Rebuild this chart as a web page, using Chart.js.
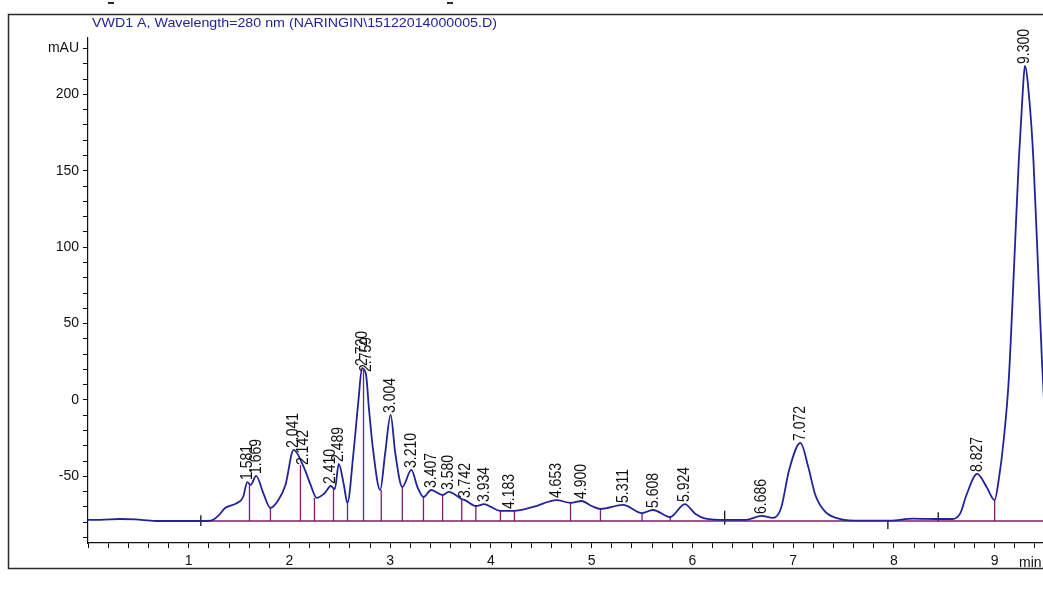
<!DOCTYPE html>
<html>
<head>
<meta charset="utf-8">
<script src="https://cdn.jsdelivr.net/npm/chart.js@4/dist/chart.umd.min.js"></script>
<style>
  html, body { margin: 0; padding: 0; background: #fff; overflow: hidden; }
  canvas { display: block; }
</style>
</head>
<body>
<canvas id="chromato" width="1043" height="590"></canvas>
<script>
//! Les données du chromatogramme.

const titleText = 'VWD1 A, Wavelength=280 nm (NARINGIN\\15122014000005.D)';

// signal (min / mAU)
const traceTime = [
  0.00, 0.12, 0.32, 0.47, 0.67, 0.92, 1.12, 1.22, 1.30, 1.36, 1.48, 1.54,
  1.581, 1.615, 1.669, 1.74, 1.81, 1.89, 1.96, 2.041, 2.142, 2.21, 2.27,
  2.35, 2.41, 2.45, 2.489, 2.54, 2.575, 2.635, 2.685, 2.72, 2.759, 2.79,
  2.83, 2.90, 2.95, 3.004, 3.05, 3.12, 3.21, 3.27, 3.33, 3.407, 3.52, 3.58,
  3.71, 3.742, 3.85, 3.934, 4.00, 4.09, 4.23, 4.42, 4.653, 4.79, 4.90, 5.00,
  5.09, 5.311, 5.50, 5.608, 5.78, 5.924, 6.03, 6.13, 6.33, 6.53, 6.686, 6.80,
  6.88, 6.96, 7.072, 7.15, 7.22, 7.32, 7.47, 7.67, 7.96, 8.19, 8.46, 8.58,
  8.66, 8.72, 8.827, 8.92, 9.00, 9.04, 9.09, 9.14, 9.19, 9.24, 9.28, 9.30,
  9.345, 9.385, 9.43, 9.47, 9.49
];
const traceSignal = [
  -78.5, -78.5, -77.9, -78.2, -79.2, -79.2, -79.2, -78.9, -75.3, -70.7, -67.4, -63.5,
  -53.7, -55.6, -49.7, -60.9, -70.7, -65.5, -55.6, -32.7, -43.9, -55.6, -64.1,
  -60.9, -56.3, -58.3, -41.9, -55.6, -67.4, -34.7, 0, 20.9, 17.0, -6.5,
  -32.7, -58.9, -34.7, -9.8, -34.7, -56.9, -45.8, -56.9, -63.5, -58.9, -62.2, -60.2,
  -64.8, -65.5, -69.4, -68.1, -70.0, -72.6, -72.6, -70.0, -65.5, -67.4, -66.1, -69.4,
  -71.3, -68.7, -74.0, -72.0, -76.6, -68.1, -74.6, -77.6, -78.5, -78.5, -75.9, -77.2,
  -70.7, -45.8, -28.1, -43.9, -62.2, -73.3, -77.9, -78.9, -78.9, -77.6, -77.9, -77.9,
  -74.0, -62.2, -48.4, -56.9, -65.5, -52.4, -26.2, 13.1, 83.1, 157.1, 202.9, 218.6,
  196, 157, 88, 25, 0
];

// pics intégrés
const peakLabels = [
  '1.581', '1.669', '2.041', '2.142', '2.410', '2.489', '2.720', '2.759',
  '3.004', '3.210', '3.407', '3.580', '3.742', '3.934', '4.183', '4.653',
  '4.900', '5.311', '5.608', '5.924', '6.686', '7.072', '8.827', '9.300'
];
const peakApex = [
  -53.7, -49.7, -32.7, -43.9, -56.3, -41.9, 20.9, 17.0,
  -9.8, -45.8, -58.9, -60.2, -65.5, -68.1, -72.6, -65.5,
  -66.1, -68.7, -72.0, -68.1, -75.9, -28.1, -48.4, 218.6
];

// ligne de base + traits de séparation
const baselineLevel = -79.2;
const baselineFrom = 1.12;
const baselineTo = 9.49;
const dropTimes = [
  1.603, 1.811, 2.109, 2.248, 2.437, 2.576, 2.735, 2.911, 3.12, 3.33,
  3.52, 3.71, 3.85, 4.094, 4.233, 4.79, 5.087, 5.50, 5.78, 9.00
];
const dropTops = [
  -55.0, -70.7, -42.5, -64.1, -57.6, -67.4, 19.6, -58.9, -56.9, -63.5,
  -62.2, -64.8, -69.4, -72.6, -72.6, -67.4, -71.3, -74.0, -76.6, -65.5
];

// marqueurs d'événements (noirs)
const eventTimes = [1.12, 6.32, 7.94, 8.44];
const eventLow = [-82.5, -81.5, -84.5, -79.5];
const eventHigh = [-75.5, -72.5, -79.2, -73.5];

// graduations
const xTickLabels = [1, 2, 3, 4, 5, 6, 7, 8, 9];
const yTickValues = [-90, -80, -70, -60, -50, -40, -30, -20, -10, 0, 10, 20, 30, 40, 50,
  60, 70, 80, 90, 100, 110, 120, 130, 140, 150, 160, 170, 180, 190, 200, 210, 220, 230];
const yTickLabels = { '-50': '-50', '0': '0', '50': '50', '100': '100', '150': '150', '200': '200', '230': 'mAU' };

//! --------------------------------------------------------------

const bleu = '#22229a';
const violet = '#7d1f6c';
const police = '"Liberation Sans", Arial, sans-serif';

let dataTrace = traceTime.map((t, i) => ({ x: t, y: traceSignal[i] }));

let dataDrops = [];
dropTimes.forEach((t, i) => {
  dataDrops.push({ x: t, y: dropTops[i] }, { x: t, y: baselineLevel }, { x: t, y: null });
});

let dataEvents = [];
eventTimes.forEach((t, i) => {
  dataEvents.push({ x: t, y: eventLow[i] }, { x: t, y: eventHigh[i] }, { x: t, y: null });
});

//! Décor : cadre, titre, étiquettes des pics.

const decorPlugin = {
  id: 'decor',
  afterDraw(chart) {
    const ctx = chart.ctx;
    const xs = chart.scales.x;
    const ys = chart.scales.y;
    ctx.save();

    ctx.strokeStyle = '#2a2a2a';
    ctx.lineWidth = 1.5;
    ctx.strokeRect(8.5, 14.5, 1100, 554);

    ctx.lineWidth = 2;
    ctx.beginPath();
    ctx.moveTo(108, 3); ctx.lineTo(114, 3);
    ctx.moveTo(447, 3); ctx.lineTo(453, 3);
    ctx.stroke();

    ctx.fillStyle = bleu;
    ctx.font = '13px ' + police;
    ctx.textBaseline = 'middle';
    ctx.textAlign = 'left';
    const w = ctx.measureText(titleText).width;
    ctx.save();
    ctx.translate(92, 23);
    ctx.scale(405 / w, 1);
    ctx.fillText(titleText, 0, 0);
    ctx.restore();

    ctx.fillStyle = '#111';
    ctx.font = '14px ' + police;
    ctx.fillText('min', 1019, 563);

    ctx.font = '14px ' + police;
    peakLabels.forEach((lab, i) => {
      const px = xs.getPixelForValue(Number(lab));
      const py = ys.getPixelForValue(peakApex[i]);
      ctx.save();
      ctx.translate(px, py - 2);
      ctx.rotate(-Math.PI / 2);
      ctx.scale(1, 1.2);
      ctx.textAlign = 'left';
      ctx.textBaseline = 'middle';
      ctx.fillText(lab, 0, 0);
      ctx.restore();
    });

    ctx.restore();
  },
};

const config = {
  type: 'scatter',
  data: {
    datasets: [
      {
        label: 'VWD1 A',
        data: dataTrace,
        showLine: true,
        borderColor: bleu,
        borderWidth: 1.8,
        pointRadius: 0,
        cubicInterpolationMode: 'monotone',
      },
      {
        label: 'drops',
        data: dataDrops,
        showLine: true,
        spanGaps: false,
        borderColor: violet,
        borderWidth: 1.3,
        pointRadius: 0,
      },
      {
        label: 'baseline',
        data: [{ x: baselineFrom, y: baselineLevel }, { x: baselineTo, y: baselineLevel }],
        showLine: true,
        borderColor: violet,
        borderWidth: 1.3,
        pointRadius: 0,
      },
      {
        label: 'events',
        data: dataEvents,
        showLine: true,
        spanGaps: false,
        borderColor: '#111',
        borderWidth: 1.3,
        pointRadius: 0,
      },
    ],
  },
  options: {
    responsive: false,
    animation: false,
    devicePixelRatio: 1,
    layout: { padding: { top: 38, left: 0, right: 0, bottom: 0 } },
    plugins: {
      legend: { display: false },
      tooltip: { enabled: false },
    },
    scales: {
      x: {
        type: 'linear',
        min: 0,
        max: 9.48,
        afterFit: (scale) => { scale.height = 47; },
        border: { display: true, color: '#111', width: 1.2 },
        grid: { display: true, drawOnChartArea: false, drawTicks: true, tickLength: 5, color: '#111' },
        ticks: {
          stepSize: 0.2,
          includeBounds: false,
          autoSkip: false,
          maxRotation: 0,
          padding: 5,
          color: '#111',
          font: { family: police, size: 14 },
          callback: function (value) {
            const n = Math.round(value);
            if (Math.abs(value - n) < 1e-6 && xTickLabels.includes(n)) return String(n);
            return '';
          },
        },
      },
      y: {
        type: 'linear',
        min: -93.6,
        max: 236.9,
        afterFit: (scale) => { scale.width = 88; },
        afterBuildTicks: (scale) => {
          scale.ticks = yTickValues.map((v) => ({ value: v }));
        },
        border: { display: true, color: '#111', width: 1.2 },
        grid: { display: true, drawOnChartArea: false, drawTicks: true, tickLength: 5, color: '#111' },
        ticks: {
          autoSkip: false,
          padding: 4,
          color: '#111',
          font: { family: police, size: 14 },
          callback: function (value) {
            return yTickLabels[String(value)] || '';
          },
        },
      },
    },
  },
  plugins: [decorPlugin],
};

const myChart = new Chart(document.getElementById('chromato'), config);
</script>
</body>
</html>
